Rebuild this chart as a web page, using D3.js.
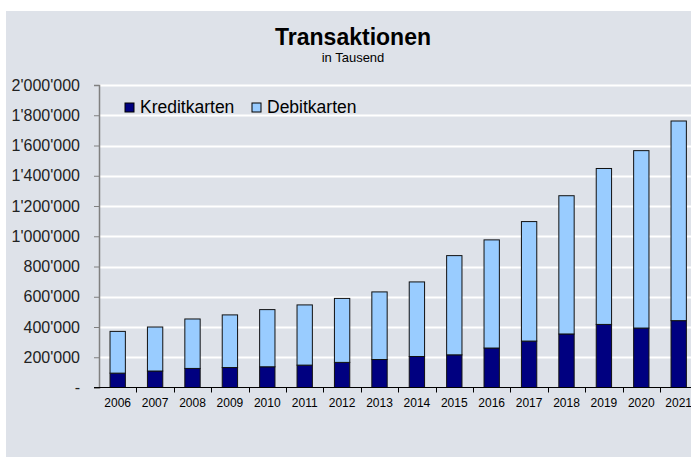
<!DOCTYPE html>
<html>
<head>
<meta charset="utf-8">
<script src="https://cdn.jsdelivr.net/npm/d3@7"></script>
<style>
  body { margin: 0; background: #fff; }
  text { font-family: "Liberation Sans", Arial, sans-serif; }
</style>
</head>
<body>
<div class="canvas"></div>
<script>
// data (in Tausend)
const years = ['2006','2007','2008','2009','2010','2011','2012','2013','2014','2015','2016','2017','2018','2019','2020','2021'];
const kredit = [95, 109, 126, 132, 137, 148, 166, 185, 205, 216, 261, 307, 354, 417, 393, 442].map(v => v * 1000);
const debit  = [276, 291, 327, 348, 378, 398, 423, 447, 493, 656, 715, 790, 914, 1031, 1173, 1320].map(v => v * 1000);
const yTicks = [0, 200000, 400000, 600000, 800000, 1000000, 1200000, 1400000, 1600000, 1800000, 2000000];
const seriesNames = ['Kreditkarten', 'Debitkarten'];
const colors = ['#000080', '#99ccff'];

const width = 691, height = 458;

const margin = { top: 85, left: 99, bottom: 387.5 };

const svg = d3.select('.canvas')
  .append('svg')
  .attr('width', width)
  .attr('height', height);

// grey chart background
svg.append('rect')
  .attr('x', 6).attr('y', 11)
  .attr('width', width - 6).attr('height', 446)
  .attr('fill', '#dee2e9');

// title
svg.append('text')
  .attr('x', 353).attr('y', 45)
  .attr('text-anchor', 'middle')
  .style('font-size', '23px').style('font-weight', 'bold')
  .attr('fill', '#000')
  .text('Transaktionen');
svg.append('text')
  .attr('x', 353).attr('y', 62)
  .attr('text-anchor', 'middle')
  .style('font-size', '13px')
  .attr('fill', '#000')
  .text('in Tausend');

// scales
const x = d3.scaleBand()
  .domain(years)
  .range([margin.left, margin.left + 16 * 37.4])
  .padding(0);

const y = d3.scaleLinear()
  .domain([0, 2000000])
  .range([margin.bottom, margin.top]);

// gridlines
svg.append('g')
  .selectAll('line')
  .data(yTicks.slice(1))
  .enter().append('line')
    .attr('x1', margin.left).attr('x2', width)
    .attr('y1', d => Math.round(y(d)) + 0.5)
    .attr('y2', d => Math.round(y(d)) + 0.5)
    .attr('stroke', '#fff')
    .attr('stroke-width', 2);

// stack
const rows = years.map((yr, i) => ({ year: yr, Kreditkarten: kredit[i], Debitkarten: debit[i] }));
const stacked = d3.stack().keys(seriesNames)(rows);

const barW = x.bandwidth() * 0.41;

svg.append('g')
  .selectAll('g')
  .data(stacked)
  .enter().append('g')
    .attr('fill', (d, i) => colors[i])
  .selectAll('rect')
  .data(d => d)
  .enter().append('rect')
    .attr('x', d => x(d.data.year) + (x.bandwidth() - barW) / 2)
    .attr('y', d => y(d[1]))
    .attr('width', barW)
    .attr('height', d => y(d[0]) - y(d[1]))
    .attr('stroke', '#111')
    .attr('stroke-width', 1);

// y axis
const fmt = d => d === 0 ? '-' : d3.format(',')(d).replace(/,/g, "'");
const yAxis = d3.axisLeft(y)
  .tickValues(yTicks)
  .tickFormat(fmt)
  .tickSize(5)
  .tickPadding(14);

const yAxisGroup = svg.append('g')
  .attr('transform', `translate(${margin.left}, 0)`)
  .call(yAxis);
yAxisGroup.select('.domain').attr('stroke', '#808080').attr('stroke-width', 1.5);
yAxisGroup.selectAll('.tick line').attr('stroke', '#808080');
yAxisGroup.selectAll('text')
  .style('font-size', '16px')
  .attr('fill', '#222')
  .style('font-family', '"Liberation Sans", Arial, sans-serif');

// x axis
const xAxisGroup = svg.append('g')
  .attr('transform', `translate(0, ${margin.bottom})`);
xAxisGroup.append('line')
  .attr('x1', margin.left - 5).attr('x2', width)
  .attr('stroke', '#000');
xAxisGroup.selectAll('.sep')
  .data(years.slice(1))
  .enter().append('line')
    .attr('class', 'sep')
    .attr('x1', d => Math.round(x(d)) + 0.5)
    .attr('x2', d => Math.round(x(d)) + 0.5)
    .attr('y1', 0).attr('y2', 5)
    .attr('stroke', '#000');
xAxisGroup.selectAll('.lbl')
  .data(years)
  .enter().append('text')
    .attr('class', 'lbl')
    .attr('x', d => x(d) + x.bandwidth() / 2)
    .attr('y', 19)
    .attr('text-anchor', 'middle')
    .style('font-size', '12px')
    .attr('fill', '#000')
    .text(d => d);

// legend
const legendX = [125, 252];
const legend = svg.append('g')
  .selectAll('g')
  .data(seriesNames)
  .enter().append('g')
    .attr('transform', (d, i) => `translate(${legendX[i]}, 103)`);
legend.append('rect')
  .attr('width', 9).attr('height', 9)
  .attr('fill', (d, i) => colors[i])
  .attr('stroke', '#000');
legend.append('text')
  .attr('x', 15).attr('y', 10)
  .style('font-size', '17.5px')
  .attr('fill', '#000')
  .text(d => d);
</script>
</body>
</html>
